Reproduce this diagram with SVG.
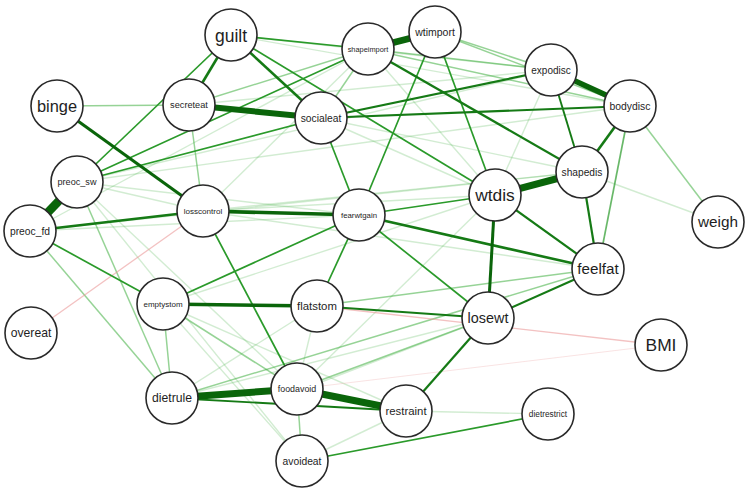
<svg xmlns="http://www.w3.org/2000/svg" width="748" height="493" viewBox="0 0 748 493">
<style>
.n circle{fill:#fff;stroke:#2a2a2a;stroke-width:1.6}
.n text{font-family:"Liberation Sans",Arial,sans-serif;fill:#1e1e1e;text-anchor:middle}
line{stroke-linecap:butt}
.s{stroke:#0a650a}
.d{stroke:#157a15;stroke-width:2.2}
.m{stroke:#2a9a2a;stroke-width:1.7}
.l{stroke:#3fae3f;stroke-width:1.5;stroke-opacity:.55}
.f{stroke:#5cbc5c;stroke-width:1.4;stroke-opacity:.28}
.r{stroke:#eb9a9a;stroke-width:1.3;stroke-opacity:.6}
.rf{stroke:#eeb0b0;stroke-width:1.2;stroke-opacity:.35}
</style>
<g id="edges">
<line class="f" x1="77" y1="182" x2="359" y2="215"/>
<line class="f" x1="77" y1="182" x2="630" y2="106"/>
<line class="f" x1="77" y1="182" x2="551" y2="70"/>
<line class="f" x1="77" y1="182" x2="302" y2="461"/>
<line class="f" x1="77" y1="182" x2="297" y2="389"/>
<line class="f" x1="77" y1="182" x2="203" y2="211"/>
<line class="f" x1="30" y1="231" x2="359" y2="215"/>
<line class="f" x1="30" y1="231" x2="582" y2="172"/>
<line class="f" x1="30" y1="231" x2="368" y2="49"/>
<line class="f" x1="203" y1="211" x2="368" y2="49"/>
<line class="f" x1="203" y1="211" x2="495" y2="195"/>
<line class="f" x1="203" y1="211" x2="598" y2="269"/>
<line class="f" x1="203" y1="211" x2="582" y2="172"/>
<line class="f" x1="189" y1="105" x2="551" y2="70"/>
<line class="f" x1="321" y1="118" x2="495" y2="195"/>
<line class="f" x1="321" y1="118" x2="582" y2="172"/>
<line class="f" x1="163" y1="304" x2="495" y2="195"/>
<line class="f" x1="163" y1="304" x2="302" y2="461"/>
<line class="f" x1="163" y1="304" x2="406" y2="411"/>
<line class="f" x1="172" y1="398" x2="317" y2="306"/>
<line class="f" x1="172" y1="398" x2="488" y2="318"/>
<line class="f" x1="368" y1="49" x2="495" y2="195"/>
<line class="f" x1="551" y1="70" x2="495" y2="195"/>
<line class="f" x1="582" y1="172" x2="718" y2="222"/>
<line class="f" x1="317" y1="306" x2="297" y2="389"/>
<line class="f" x1="302" y1="461" x2="406" y2="411"/>
<line class="f" x1="406" y1="411" x2="548" y2="414"/>
<line class="f" x1="231" y1="35" x2="551" y2="70"/>
<line class="f" x1="231" y1="35" x2="630" y2="106"/>
<line class="f" x1="303" y1="389" x2="488" y2="318"/>
<line class="f" x1="297" y1="389" x2="495" y2="195"/>
<line class="l" x1="77" y1="182" x2="172" y2="398"/>
<line class="l" x1="30" y1="231" x2="172" y2="398"/>
<line class="l" x1="189" y1="105" x2="203" y2="211"/>
<line class="l" x1="189" y1="105" x2="368" y2="49"/>
<line class="l" x1="321" y1="118" x2="368" y2="49"/>
<line class="l" x1="368" y1="49" x2="551" y2="70"/>
<line class="l" x1="368" y1="49" x2="630" y2="106"/>
<line class="l" x1="435" y1="32" x2="551" y2="70"/>
<line class="l" x1="435" y1="32" x2="630" y2="106"/>
<line class="l" x1="630" y1="106" x2="718" y2="222"/>
<line class="l" x1="317" y1="306" x2="598" y2="269"/>
<line class="l" x1="163" y1="304" x2="172" y2="398"/>
<line class="l" x1="163" y1="304" x2="297" y2="389"/>
<line class="l" x1="297" y1="389" x2="302" y2="461"/>
<line class="l" x1="297" y1="389" x2="488" y2="318"/>
<line class="l" x1="172" y1="398" x2="598" y2="269"/>
<line class="l" x1="57" y1="106" x2="189" y2="105"/>
<line class="rf" x1="297" y1="389" x2="661" y2="345"/>
<line class="r" x1="31" y1="333" x2="203" y2="211"/>
<line class="r" x1="317" y1="306" x2="661" y2="345"/>
<line class="m" x1="231" y1="35" x2="368" y2="49"/>
<line class="m" x1="231" y1="35" x2="495" y2="195"/>
<line class="m" x1="231" y1="35" x2="77" y2="182"/>
<line class="m" x1="77" y1="182" x2="368" y2="49"/>
<line class="m" x1="77" y1="182" x2="321" y2="118"/>
<line class="m" x1="435" y1="32" x2="359" y2="215"/>
<line class="m" x1="435" y1="32" x2="495" y2="195"/>
<line class="m" x1="321" y1="118" x2="359" y2="215"/>
<line class="m" x1="359" y1="215" x2="317" y2="306"/>
<line class="m" x1="359" y1="215" x2="488" y2="318"/>
<line class="m" x1="359" y1="215" x2="495" y2="195"/>
<line class="m" x1="359" y1="215" x2="163" y2="304"/>
<line class="m" x1="203" y1="211" x2="297" y2="389"/>
<line class="m" x1="30" y1="231" x2="163" y2="304"/>
<line class="m" x1="302" y1="461" x2="548" y2="414"/>
<line class="m" x1="630" y1="106" x2="598" y2="269" style="stroke-opacity:.7"/>
<line class="d" x1="231" y1="35" x2="189" y2="105" style="stroke-width:2.6"/>
<line class="d" x1="231" y1="35" x2="321" y2="118" style="stroke-width:2.6"/>
<line class="d" x1="30" y1="231" x2="203" y2="211" style="stroke-width:2.6"/>
<line class="d" x1="359" y1="215" x2="598" y2="269" style="stroke-width:2.6"/>
<line class="d" x1="368" y1="49" x2="582" y2="172"/>
<line class="d" x1="321" y1="118" x2="551" y2="70"/>
<line class="d" x1="321" y1="118" x2="630" y2="106"/>
<line class="d" x1="630" y1="106" x2="582" y2="172" style="stroke-width:2.6"/>
<line class="d" x1="582" y1="172" x2="598" y2="269"/>
<line class="d" x1="551" y1="70" x2="582" y2="172" style="stroke-width:1.9"/>
<line class="d" x1="495" y1="195" x2="598" y2="269"/>
<line class="d" x1="598" y1="269" x2="488" y2="318"/>
<line class="d" x1="317" y1="306" x2="488" y2="318"/>
<line class="d" x1="488" y1="318" x2="406" y2="411"/>
<line class="d" x1="172" y1="398" x2="406" y2="411" style="stroke-width:1.9"/>
<line class="s" x1="57" y1="106" x2="203" y2="211" style="stroke-width:3"/>
<line class="s" x1="495" y1="195" x2="488" y2="318" style="stroke-width:3"/>
<line class="s" x1="203" y1="211" x2="359" y2="215" style="stroke-width:3.6"/>
<line class="s" x1="163" y1="304" x2="317" y2="306" style="stroke-width:3.6"/>
<line class="s" x1="551" y1="70" x2="630" y2="106" style="stroke-width:5.5"/>
<line class="s" x1="189" y1="105" x2="321" y2="118" style="stroke-width:6"/>
<line class="s" x1="368" y1="49" x2="435" y2="32" style="stroke-width:6.5"/>
<line class="s" x1="495" y1="195" x2="582" y2="172" style="stroke-width:7"/>
<line class="s" x1="172" y1="398" x2="297" y2="389" style="stroke-width:7"/>
<line class="s" x1="297" y1="389" x2="406" y2="411" style="stroke-width:7"/>
<line class="s" x1="77" y1="182" x2="30" y2="231" style="stroke-width:8.5"/>
</g>
<g id="guilt" class="n"><circle cx="231" cy="35" r="26"/><text x="231" y="41.5" font-size="17.5">guilt</text></g>
<g id="shapeimport" class="n"><circle cx="368" cy="49" r="26"/><text x="368" y="51.6" font-size="7.4">shapeimport</text></g>
<g id="wtimport" class="n"><circle cx="435" cy="32" r="26"/><text x="435" y="35.7" font-size="10.5">wtimport</text></g>
<g id="expodisc" class="n"><circle cx="551" cy="70" r="26"/><text x="551" y="73.5" font-size="10">expodisc</text></g>
<g id="bodydisc" class="n"><circle cx="630" cy="106" r="26"/><text x="630" y="109.6" font-size="10.4">bodydisc</text></g>
<g id="binge" class="n"><circle cx="57" cy="106" r="26"/><text x="57" y="112" font-size="16.4">binge</text></g>
<g id="secreteat" class="n"><circle cx="189" cy="105" r="26"/><text x="189" y="108.2" font-size="9.2">secreteat</text></g>
<g id="socialeat" class="n"><circle cx="321" cy="118" r="26"/><text x="321" y="121.6" font-size="10.3">socialeat</text></g>
<g id="preoc_sw" class="n"><circle cx="77" cy="182" r="26"/><text x="77" y="185.2" font-size="9.1">preoc_sw</text></g>
<g id="preoc_fd" class="n"><circle cx="30" cy="231" r="26"/><text x="30" y="234.6" font-size="10.3">preoc_fd</text></g>
<g id="losscontrol" class="n"><circle cx="203" cy="211" r="26"/><text x="203" y="213.8" font-size="8.1">losscontrol</text></g>
<g id="fearwtgain" class="n"><circle cx="359" cy="215" r="26"/><text x="359" y="217.7" font-size="7.8">fearwtgain</text></g>
<g id="wtdis" class="n"><circle cx="495" cy="195" r="26"/><text x="495" y="201.2" font-size="17.4">wtdis</text></g>
<g id="shapedis" class="n"><circle cx="582" cy="172" r="26"/><text x="582" y="175.6" font-size="10.2">shapedis</text></g>
<g id="weigh" class="n"><circle cx="718" cy="222" r="26"/><text x="718" y="227.4" font-size="15.3">weigh</text></g>
<g id="feelfat" class="n"><circle cx="598" cy="269" r="26"/><text x="598" y="274.4" font-size="15.2">feelfat</text></g>
<g id="overeat" class="n"><circle cx="31" cy="333" r="26"/><text x="31" y="337.3" font-size="12.2">overeat</text></g>
<g id="emptystom" class="n"><circle cx="163" cy="304" r="26"/><text x="163" y="306.8" font-size="8">emptystom</text></g>
<g id="flatstom" class="n"><circle cx="317" cy="306" r="26"/><text x="317" y="310" font-size="11.4">flatstom</text></g>
<g id="losewt" class="n"><circle cx="488" cy="318" r="26"/><text x="488" y="323" font-size="14.4">losewt</text></g>
<g id="BMI" class="n"><circle cx="661" cy="345" r="26"/><text x="661" y="351.2" font-size="17.4">BMI</text></g>
<g id="dietrule" class="n"><circle cx="172" cy="398" r="26"/><text x="172" y="402.3" font-size="12.2">dietrule</text></g>
<g id="foodavoid" class="n"><circle cx="297" cy="389" r="26"/><text x="297" y="392.1" font-size="8.9">foodavoid</text></g>
<g id="restraint" class="n"><circle cx="406" cy="411" r="26"/><text x="406" y="415" font-size="11.4">restraint</text></g>
<g id="dietrestrict" class="n"><circle cx="548" cy="414" r="26"/><text x="548" y="416.9" font-size="8.3">dietrestrict</text></g>
<g id="avoideat" class="n"><circle cx="302" cy="461" r="26"/><text x="302" y="464.6" font-size="10.3">avoideat</text></g>
</svg>
